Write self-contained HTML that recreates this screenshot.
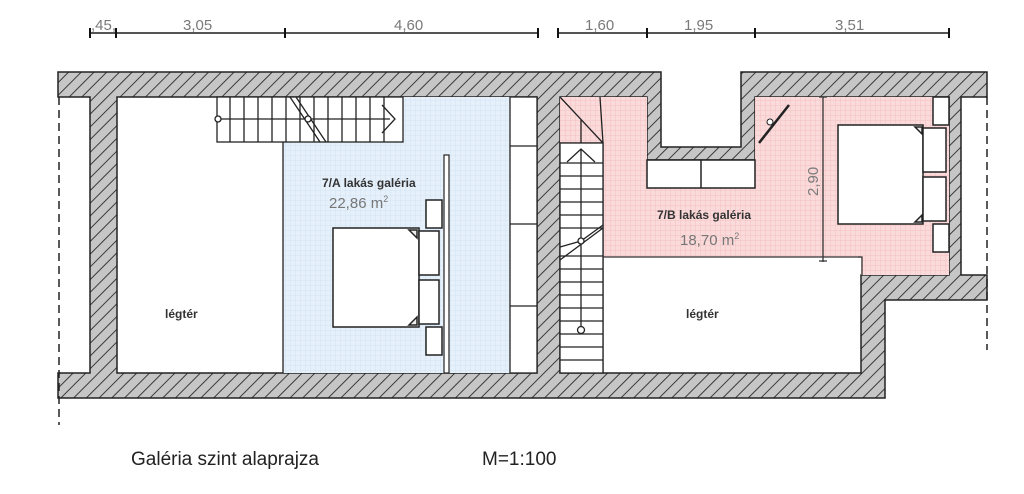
<!DOCTYPE html>
<html><head><meta charset="utf-8"><style>
html,body{margin:0;padding:0;background:#fff;width:1024px;height:494px;overflow:hidden}
svg{display:block}
text{font-family:"Liberation Sans",sans-serif}
</style></head><body>
<svg width="1024" height="494" viewBox="0 0 1024 494" xmlns="http://www.w3.org/2000/svg">
<defs>
<pattern id="h" patternUnits="userSpaceOnUse" width="9" height="9" patternTransform="rotate(45)">
<rect width="9" height="9" fill="#c6c6c6"/><line x1="0" y1="0" x2="0" y2="9" stroke="#2a2a2a" stroke-width="1.8"/>
</pattern>
<pattern id="gb" patternUnits="userSpaceOnUse" width="5" height="5">
<rect width="5" height="5" fill="#e6f0fa"/><path d="M0 0H5M0 0V5" stroke="#cfe0f2" stroke-width="0.8"/>
</pattern>
<pattern id="gp" patternUnits="userSpaceOnUse" width="5" height="5">
<rect width="5" height="5" fill="#fadada"/><path d="M0 0H5M0 0V5" stroke="#f2bcbc" stroke-width="0.8"/>
</pattern>
</defs>

<g stroke="#555" stroke-width="2" fill="none">
<line x1="90" y1="33" x2="538" y2="33"/>
<line x1="558" y1="33" x2="949" y2="33"/>
</g>
<g stroke="#111" stroke-width="2">
<path d="M90 28V38M116 28V38M285 28V38M538 28V38M558 28V38M647 28V38M755 28V38M949 28V38"/>
</g>
<g fill="#7a7a7a" font-size="15">
<text x="91" y="30">,45,</text>
<text x="183" y="30">3,05</text>
<text x="394" y="30">4,60</text>
<text x="585" y="30">1,60</text>
<text x="684" y="30">1,95</text>
<text x="835" y="30">3,51</text>
</g>

<path fill-rule="evenodd" fill="url(#h)" stroke="#222" stroke-width="1.5"
d="M58 72H661V147H741V72H987V97H961V275H987V300H885V398H58V373H90V97H58Z M117 97H537V373H117Z M560 97H647V160H755V97H949V275H861V373H560Z"/>

<rect x="283" y="97" width="227" height="276" fill="url(#gb)"/>
<path d="M560 97H647V160H755V97H949V275H861V257H603V143H560Z" fill="url(#gp)"/>

<g stroke="#222" stroke-width="1.3" fill="#fff">
<rect x="217" y="97" width="186" height="45"/>
<path d="M230 97V142M244 97V142M258 97V142M272 97V142M286 97V142M300 97V142M314 97V142M328 97V142M342 97V142M356 97V142M370 97V142M384 97V142" fill="none"/>
<line x1="218" y1="119" x2="390" y2="119"/>
<path d="M382 105L395 119L382 133" fill="none"/>
<path d="M290 97L320 142M296 97L326 142" fill="none"/>
<circle cx="218" cy="119" r="3"/><circle cx="308" cy="119" r="3"/>
</g>
<line x1="283" y1="142" x2="283" y2="373" stroke="#222" stroke-width="1.3"/>
<rect x="444" y="155" width="5" height="218" fill="#fff" stroke="#222" stroke-width="1.2"/>
<g stroke="#222" stroke-width="1.5" fill="#fff">
<rect x="426" y="200" width="16" height="28"/>
<rect x="426" y="327" width="16" height="28"/>
<rect x="333" y="228" width="86" height="99"/>
<rect x="419" y="231" width="20" height="44"/>
<rect x="419" y="280" width="20" height="44"/>
<path d="M409 230L417 238V230Z M409 325L417 317V325Z" fill="#eee"/>
</g>
<g stroke="#222" stroke-width="1.3" fill="#fff">
<rect x="510" y="97" width="27" height="276"/>
<path d="M510 146H537M510 224H537M510 306H537"/>
</g>

<g stroke="#222" stroke-width="1.3" fill="none">
<path d="M560 97L603 143M600 97L603 143M581 120V143H603M560 143H603V373"/>
<rect x="560" y="143" width="43" height="230" fill="#fff"/>
<path d="M560 163H603M560 176H603M560 189H603M560 202H603M560 215H603M560 228H603M560 256H603M560 269H603M560 282H603M560 295H603M560 308H603M560 321H603M560 334H603M560 347H603M560 360H603"/>
<path d="M567 162L581 149L595 162"/>
<line x1="581" y1="150" x2="581" y2="330"/>
<path d="M560 260L603 228M560 247L581 241L603 225"/>
<circle cx="581" cy="241" r="3" fill="#fff"/><circle cx="581" cy="330" r="3.5" fill="#fff"/>
</g>
<line x1="603" y1="257" x2="861" y2="257" stroke="#333" stroke-width="1.3"/>
<path d="M858 257H862V275" stroke="#333" stroke-width="1.3" fill="none"/>
<g stroke="#222" stroke-width="1.5" fill="#fff">
<rect x="647" y="160" width="108" height="28"/>
<line x1="701" y1="160" x2="701" y2="188"/>
</g>
<g stroke="#222" stroke-width="2.5"><line x1="759" y1="143" x2="789" y2="105"/></g>
<circle cx="770" cy="122" r="3" fill="#fff" stroke="#222"/>
<g stroke="#333" stroke-width="1.3"><line x1="823" y1="97" x2="823" y2="262"/><path d="M819 97H827M819 261H827"/></g>
<text transform="translate(818,196) rotate(-90)" fill="#7a7a7a" font-size="15">2,90</text>
<g stroke="#222" stroke-width="1.5" fill="#fff">
<rect x="933" y="97" width="16" height="28"/>
<rect x="933" y="224" width="16" height="28"/>
<rect x="838" y="125" width="85" height="99"/>
<rect x="923" y="128" width="23" height="44"/>
<rect x="923" y="177" width="23" height="44"/>
<path d="M915 127L922 134V127Z M915 222L922 215V222Z" fill="#eee"/>
</g>

<line x1="59" y1="97" x2="59" y2="425" stroke="#222" stroke-width="1.5" stroke-dasharray="8,5"/>
<line x1="987" y1="97" x2="987" y2="350" stroke="#222" stroke-width="1.5" stroke-dasharray="8,5"/>

<g fill="#333" font-size="12" font-weight="bold">
<text x="322" y="187">7/A lakás galéria</text>
<text x="165" y="318">légtér</text>
<text x="657" y="219">7/B lakás galéria</text>
<text x="686" y="318">légtér</text>
</g>
<text x="329" y="208" fill="#777" font-size="15">22,86 m<tspan dy="-6" font-size="9">2</tspan></text>
<text x="680" y="245" fill="#777" font-size="15">18,70 m<tspan dy="-6" font-size="9">2</tspan></text>
<text x="131" y="465" fill="#222" font-size="19">Galéria szint alaprajza</text>
<text x="482" y="465" fill="#222" font-size="19">M=1:100</text>
</svg>
</body></html>
